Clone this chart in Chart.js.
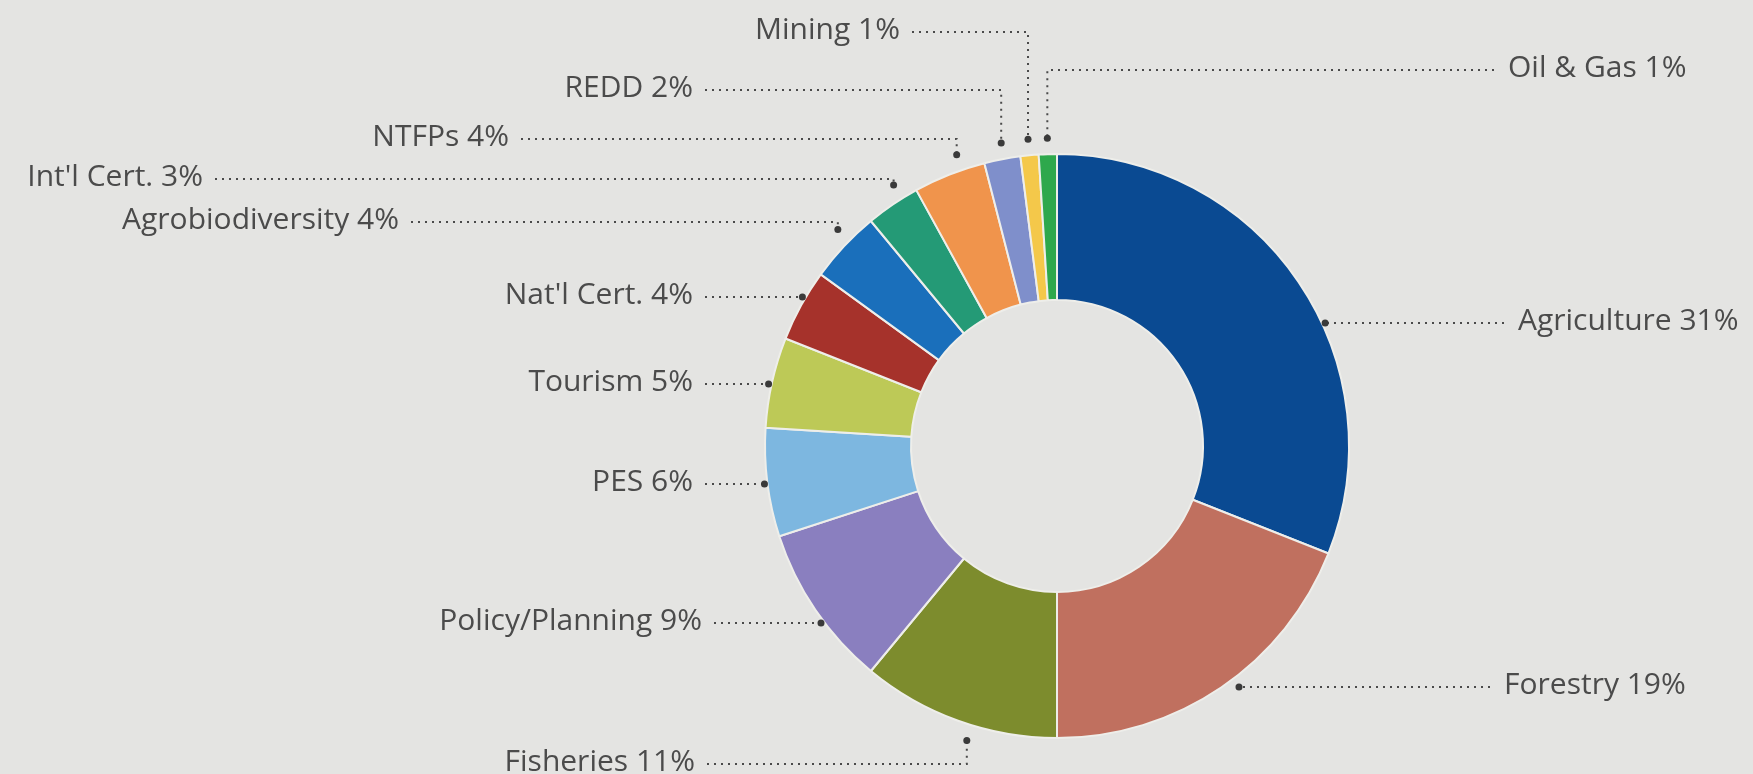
<!DOCTYPE html>
<html>
<head>
<meta charset="utf-8">
<script src="https://cdn.jsdelivr.net/npm/chart.js@4.4.0/dist/chart.umd.min.js"></script>
<style>
  html, body { margin: 0; padding: 0; background: #e4e4e2; }
  #app { display: block; }
</style>
</head>
<body>
<canvas id="app" width="1753" height="774"></canvas>
<script>
const sectors = ['Agriculture', 'Forestry', 'Fisheries', 'Policy/Planning', 'PES', 'Tourism',
  "Nat'l Cert.", 'Agrobiodiversity', "Int'l Cert.", 'NTFPs', 'REDD', 'Mining', 'Oil & Gas'];
const shares = [31, 19, 11, 9, 6, 5, 4, 4, 3, 4, 2, 1, 1];
const colors = ['#0a4a92', '#c0705f', '#7d8c2d', '#8a7fbf', '#7db7e0', '#bdc957',
  '#a6322b', '#1a6fbb', '#249a76', '#f0944c', '#7f8fcb', '#f4c84a', '#2ea84c'];

// where each label sits (same order as sectors); elbow = leader turns to the slice,
// at = how far along the slice the elbow dot sits
const labelLayout = [
  { side: 'right', y: 323, textX: 1518 },
  { side: 'right', y: 687, textX: 1504, out: 10 },
  { side: 'left', y: 764, textX: 695, elbow: true, at: 0.43 },
  { side: 'left', y: 623, textX: 702 },
  { side: 'left', y: 484, textX: 693 },
  { side: 'left', y: 384, textX: 693 },
  { side: 'left', y: 297, textX: 693 },
  { side: 'left', y: 222, textX: 399, elbow: true, at: 0.6 },
  { side: 'left', y: 179, textX: 203, elbow: true, at: 0.7 },
  { side: 'left', y: 139, textX: 509, elbow: true, at: 0.68 },
  { side: 'left', y: 90, textX: 693, elbow: true, at: 0.55 },
  { side: 'left', y: 32, textX: 900, elbow: true },
  { side: 'right', y: 70, textX: 1508, elbow: true },
];

const leaderLabels = {
  id: 'leaderLabels',
  afterDatasetsDraw(chart) {
    const ctx = chart.ctx;
    const arcs = chart.getDatasetMeta(0).data;
    ctx.save();
    ctx.font = '30px "Open Sans"';
    ctx.textBaseline = 'middle';
    arcs.forEach((arc, i) => {
      const L = labelLayout[i];
      const { x, y, startAngle, endAngle, outerRadius } = arc.getProps(['x', 'y', 'startAngle', 'endAngle', 'outerRadius'], true);
      let dot;
      if (L.elbow) {
        const f = L.at ?? 0.5;
        const a = startAngle + (endAngle - startAngle) * f;
        const r = outerRadius + 16;
        dot = { x: x + r * Math.cos(a), y: y + r * Math.sin(a) };
      } else {
        const r = outerRadius + (L.out ?? 3);
        const dy = L.y - y;
        const dx = Math.sqrt(Math.max(r * r - dy * dy, 0));
        dot = { x: x + (L.side === 'right' ? dx : -dx), y: L.y };
      }
      const lineStart = L.side === 'right' ? L.textX - 14 : L.textX + 12;

      ctx.strokeStyle = '#4a4a4a';
      ctx.lineWidth = 2;
      ctx.setLineDash([2, 5]);
      ctx.beginPath();
      ctx.moveTo(lineStart, L.y);
      ctx.lineTo(dot.x, L.y);
      if (L.elbow) ctx.lineTo(dot.x, dot.y);
      ctx.stroke();
      ctx.setLineDash([]);

      ctx.fillStyle = '#3a3a3a';
      ctx.beginPath();
      ctx.arc(dot.x, dot.y, 3.5, 0, Math.PI * 2);
      ctx.fill();

      ctx.fillStyle = '#4b4b4b';
      ctx.textAlign = L.side === 'right' ? 'left' : 'right';
      ctx.fillText(sectors[i] + ' ' + shares[i] + '%', L.textX, L.y - 2);
    });
    ctx.restore();
  }
};

function draw() {
  new Chart(document.getElementById('app'), {
    type: 'doughnut',
    data: {
      labels: sectors,
      datasets: [{
        data: shares,
        backgroundColor: colors,
        borderColor: '#eeeeea',
        borderWidth: 2,
      }]
    },
    options: {
      responsive: false,
      maintainAspectRatio: false,
      animation: false,
      cutout: '50%',
      layout: { padding: { left: 764, right: 403, top: 153, bottom: 35 } },
      plugins: {
        legend: { display: false },
        tooltip: { enabled: false },
      }
    },
    plugins: [leaderLabels]
  });
}

document.fonts.load('30px "Open Sans"').then(draw, draw);
</script>
</body>
</html>
